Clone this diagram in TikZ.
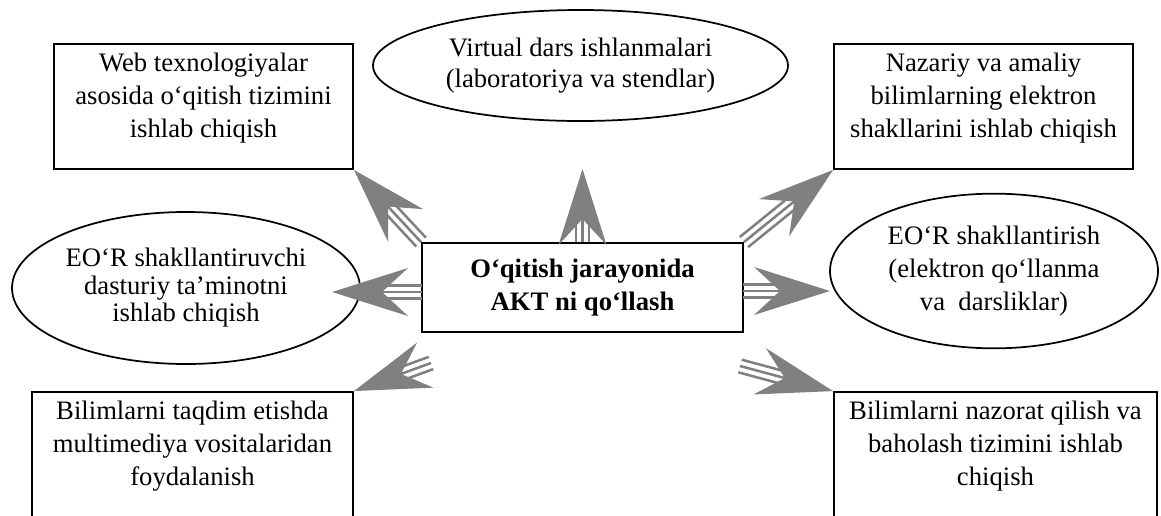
\documentclass[tikz,border=0pt]{standalone}
\usepackage{fontspec}
\setmainfont{Liberation Serif}
\usetikzlibrary{shapes.geometric, positioning, calc}
\tikzstyle{rect} = [rectangle, draw=black, line width=1.4pt, inner sep=0pt]
\tikzstyle{oval} = [ellipse, draw=black, line width=1.3pt, inner sep=0pt, align=center]
\tikzstyle{txt} = [align=center, inner sep=0pt, font=\fontsize{20}{24.75}\selectfont]
\tikzstyle{stripe} = [draw=gray, line width=1.9pt]
\tikzstyle{head} = [fill=gray]

% striped gray arrow: #1 tail, #2 tip
\newcommand{\stripearrow}[2]{%
  \coordinate (n) at ($(#2)!37.5pt!(#1)$);
  \coordinate (b) at ($(#2)!57pt!(#1)$);
  \foreach \o in {-4.9pt,0pt,4.9pt}
    \draw[stripe] ($(#1)!\o!90:(#2)$) -- ($(n)!\o!90:(#2)$);
  \fill[head] (#2) -- ($(b)!18pt!90:(#2)$) -- (n) -- ($(b)!18pt!-90:(#2)$) -- cycle;
}

\begin{document}
\begin{tikzpicture}[x=0.75pt, y=-0.75pt]
    \useasboundingbox (0,0) rectangle (1161,515);
    \clip (0,0) rectangle (1161,515);

    % boxes
    \node (web) [rect, minimum width=224.25pt, minimum height=93.75pt] at (203.5,106.5) {};
    \node (webtxt) [txt, below=7pt of web.north]
      {Web texnologiyalar\\asosida o‘qitish tizimini\\ishlab chiqish};
    \node (nazariy) [rect, minimum width=224.25pt, minimum height=93.75pt] at (983.5,106.5) {};
    \node (nazariytxt) [txt, below=7pt of nazariy.north]
      {Nazariy va amaliy\\bilimlarning elektron\\shakllarini ishlab chiqish};
    \node (taqdim) [rect, minimum width=240.75pt, minimum height=120pt] at (192.5,472) {};
    \node (taqdimtxt) [txt, below=7pt of taqdim.north]
      {Bilimlarni taqdim etishda\\multimediya vositalaridan\\foydalanish};
    \node (nazorat) [rect, minimum width=242.25pt, minimum height=120pt] at (995.5,472) {};
    \node (nazorattxt) [txt, below=7pt of nazorat.north]
      {Bilimlarni nazorat qilish va\\baholash tizimini ishlab\\chiqish};

    \node (akt) [rect, txt, minimum width=240.75pt, minimum height=66.75pt,
      font=\fontsize{20}{24.75}\selectfont\bfseries] at (582.5,287.5)
      {O‘qitish jarayonida\\AKT ni qo‘llash};

    % ellipses
    \node (virtual) [oval, txt, minimum width=311.25pt, minimum height=83.25pt,
      font=\fontsize{20}{23.25}\selectfont] at (580.5,65.5)
      {Virtual dars ishlanmalari\\(laboratoriya va stendlar)};
    \node (dastur) [oval, txt, minimum width=261pt, minimum height=114pt,
      font=\fontsize{20}{20.6}\selectfont] at (186,288)
      {EO‘R shakllantiruvchi\\dasturiy ta’minotni\\ishlab chiqish};
    \node (eor) [oval, txt, minimum width=246pt, minimum height=116pt,
      font=\fontsize{20}{25}\selectfont] at (994,271)
      {EO‘R shakllantirish\\(elektron qo‘llanma\\va \ darsliklar)};

    % arrow ends
    \coordinate (tUp) at (582.5,169);
    \coordinate (sL) at (422,292);
    \coordinate (tL) at (332,292);
    \coordinate (sR) at (743,291);
    \coordinate (tR) at (830,291);
    \coordinate (sDL) at (431,363);
    \coordinate (sDR) at (740,366);

    \stripearrow{akt.north}{tUp}
    \stripearrow{akt.north west}{web.south east}
    \stripearrow{akt.north east}{nazariy.south west}
    \stripearrow{sL}{tL}
    \stripearrow{sR}{tR}
    \stripearrow{sDL}{taqdim.north east}
    \stripearrow{sDR}{nazorat.north west}
\end{tikzpicture}
\end{document}
